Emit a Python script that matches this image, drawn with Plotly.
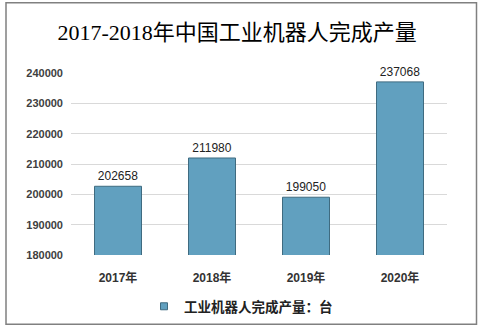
import plotly.graph_objects as go

categories = ["2017年", "2018年", "2019年", "2020年"]
values = [202658, 211980, 199050, 237068]
series_name = "工业机器人完成产量：台"
y_ticks = [180000, 190000, 200000, 210000, 220000, 230000, 240000]
title_text = "2017-2018年中国工业机器人完成产量"

bar_color = "#61a0bf"
edge_color = "#3f6b80"

fig = go.Figure()
fig.add_trace(go.Bar(
    x=categories, y=values, name=series_name,
    width=0.5,
    marker=dict(color=bar_color, line=dict(color=edge_color, width=1)),
    text=[str(v) for v in values], textposition="outside",
    textfont=dict(family="Liberation Sans, Arial, sans-serif", size=12, color="#222222"),
    cliponaxis=False,
    showlegend=False,
    legendgroup="s",
))
# legend entry with a small square symbol like the reference
fig.add_trace(go.Scatter(
    x=[None], y=[None], mode="markers", name=series_name, legendgroup="s",
    marker=dict(symbol="square", size=7, color=bar_color, line=dict(color=edge_color, width=1)),
    showlegend=True,
))

fig.update_layout(
    width=482, height=328,
    margin=dict(l=71, r=35, t=73, b=73, autoexpand=False),
    paper_bgcolor="white", plot_bgcolor="white",
    title=dict(text=title_text, x=0.492, xanchor="center", y=1 - 32 / 328, yanchor="middle",
               font=dict(family="Liberation Serif, Noto Sans CJK SC, serif", size=22, color="#000000")),
    showlegend=True,
    legend=dict(orientation="h", x=(144 - 71) / 376, xanchor="left", y=-0.283, yanchor="middle",
                font=dict(family="Noto Sans CJK SC, sans-serif", size=13.5, color="#222222", weight="bold"),
                itemwidth=30),
    bargap=0.5,
    xaxis=dict(showgrid=False, showline=False, ticks="", ticklabelstandoff=14, automargin=False,
               tickfont=dict(family="Liberation Sans, Noto Sans CJK SC, sans-serif", size=12,
                             color="#333333", weight="bold")),
    yaxis=dict(range=[180000, 240000], tickvals=y_ticks, ticktext=[str(t) for t in y_ticks],
               showgrid=True, gridcolor="#d9d9d9", gridwidth=1, zeroline=False, showline=False,
               ticks="", ticklabelstandoff=7, automargin=False,
               tickfont=dict(family="Liberation Sans, Arial, sans-serif", size=11,
                             color="#404040", weight="bold")),
    shapes=[dict(type="rect", xref="paper", yref="paper",
                 x0=(6 - 71) / 376, x1=(476.5 - 71) / 376,
                 y0=(255 - 324) / 181.5, y1=(255 - 3.5) / 181.5,
                 line=dict(color="#808080", width=1.5), fillcolor="rgba(0,0,0,0)", layer="below")],
)

fig.write_html("out.html")
